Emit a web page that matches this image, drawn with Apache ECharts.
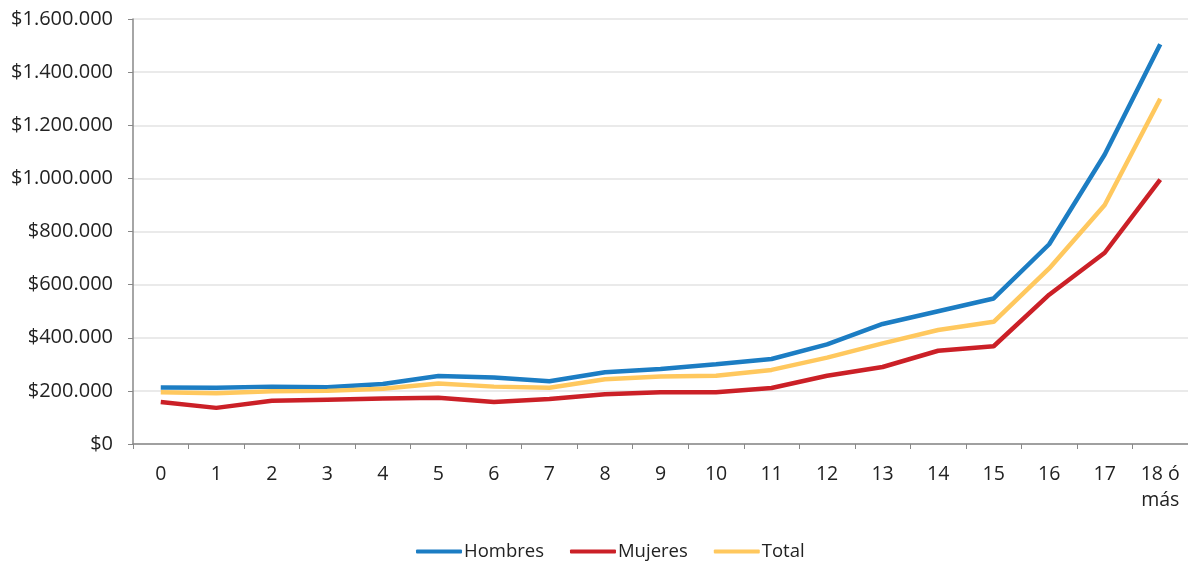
<!DOCTYPE html>
<html><head><meta charset="utf-8">
<script src="https://cdn.jsdelivr.net/npm/echarts@6/dist/echarts.min.js"></script>
<style>html,body{margin:0;padding:0;background:#fff}#c{width:1188px;height:561px}</style>
</head><body><div id="c"></div>
<script>
const categories = ['0','1','2','3','4','5','6','7','8','9','10','11','12','13','14','15','16','17','18 ó\nmás'];
const hombres = [213000, 212000, 216000, 214000, 226000, 256000, 250000, 236000, 270000, 282000, 300000, 320000, 375000, 452000, 500000, 548000, 752000, 1090000, 1505000];
const mujeres = [158000, 136000, 163000, 167000, 171000, 174000, 158000, 169000, 187000, 195000, 195000, 211000, 257000, 290000, 351000, 368000, 562000, 720000, 995000];
const total = [195000, 191000, 199000, 200000, 208000, 228000, 216000, 212000, 244000, 254000, 257000, 279000, 325000, 379000, 429000, 460000, 661000, 900000, 1300000];
const seriesNames = ['Hombres', 'Mujeres', 'Total'];

const fmt = v => '$' + String(v).replace(/\B(?=(\d{3})+(?!\d))/g, '.');
const font = '"Open Sans", sans-serif';
const chart = echarts.init(document.getElementById('c'), null, {renderer: 'canvas'});
const colors = ['#1C7DC3', '#CB2027', '#FFC85E'];
chart.setOption({
  animation: false,
  color: colors,
  grid: {left: 133, top: 19, width: 1068, bottom: 117, containLabel: false},
  legend: {
    left: 411, top: 537,
    itemWidth: 46, itemHeight: 4, itemGap: 26,
    icon: 'roundRect',
    textStyle: {fontFamily: font, fontSize: 18.5, color: '#222', padding: [0,0,0,-3]},
    data: seriesNames
  },
  xAxis: {
    type: 'category', data: categories, boundaryGap: true,
    axisLine: {lineStyle: {color: '#888', width: 1.5}},
    axisTick: {show: true, length: 5, lineStyle: {color: '#888'}},
    axisLabel: {fontFamily: font, fontSize: 19.5, color: '#222', margin: 17, lineHeight: 26, interval: 0}
  },
  yAxis: {
    type: 'value', min: 0, max: 1600000, interval: 200000,
    axisLine: {show: true, lineStyle: {color: '#888', width: 1.5}},
    axisTick: {show: true, length: 5, lineStyle: {color: '#888'}},
    splitLine: {lineStyle: {color: '#e3e3e3', width: 1.5}},
    axisLabel: {fontFamily: font, fontSize: 20, color: '#222', margin: 20, formatter: fmt}
  },
  series: [
    {name: seriesNames[0], type: 'line', data: hombres, showSymbol: false, lineStyle: {width: 4.5}},
    {name: seriesNames[1], type: 'line', data: mujeres, showSymbol: false, lineStyle: {width: 4.5}},
    {name: seriesNames[2], type: 'line', data: total, showSymbol: false, lineStyle: {width: 4.5}}
  ]
});
</script></body></html>
